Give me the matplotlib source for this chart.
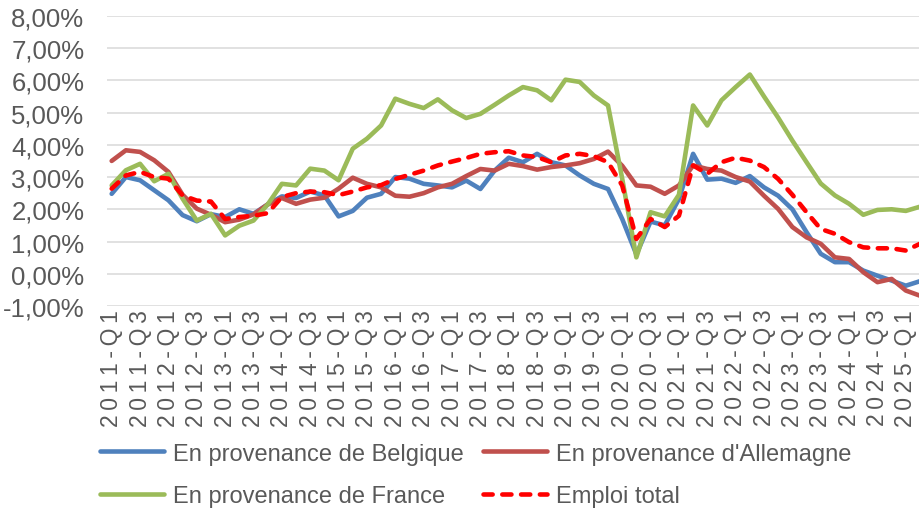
import matplotlib
matplotlib.use("Agg")
import matplotlib.pyplot as plt
from matplotlib.ticker import FuncFormatter

##### Donnees #####
quarters = [f"{y}-Q{q}" for y in range(2011, 2026) for q in range(1, 5)][:58]

belgique = [2.48, 3.0, 2.9, 2.59, 2.28, 1.82, 1.63, 1.85, 1.76, 2.0,
            1.86, 2.15, 2.4, 2.35, 2.55, 2.43, 1.78, 1.95, 2.36, 2.48,
            3.0, 2.95, 2.79, 2.74, 2.68, 2.89, 2.63, 3.2, 3.6, 3.46,
            3.72, 3.46, 3.36, 3.05, 2.79, 2.63, 1.7, 0.6, 1.62, 1.5,
            2.32, 3.72, 2.92, 2.95, 2.82, 3.03, 2.68, 2.42, 2.0, 1.29,
            0.62, 0.36, 0.36, 0.1, -0.06, -0.21, -0.37, -0.23]

allemagne = [3.5, 3.83, 3.78, 3.52, 3.16, 2.45, 2.02, 1.83, 1.6, 1.68,
             1.84, 2.15, 2.35, 2.17, 2.3, 2.36, 2.64, 2.98, 2.79, 2.68,
             2.42, 2.39, 2.5, 2.68, 2.79, 3.03, 3.25, 3.2, 3.41, 3.34,
             3.23, 3.31, 3.36, 3.43, 3.56, 3.79, 3.35, 2.74, 2.7, 2.48,
             2.74, 3.36, 3.25, 3.2, 3.0, 2.86, 2.42, 2.01, 1.45, 1.13,
             0.93, 0.51, 0.46, 0.05, -0.26, -0.16, -0.52, -0.68]

france = [2.74, 3.21, 3.41, 2.87, 3.1, 2.33, 1.65, 1.86, 1.19, 1.49,
          1.65, 2.15, 2.79, 2.74, 3.26, 3.2, 2.9, 3.88, 4.19, 4.6,
          5.43, 5.27, 5.14, 5.41, 5.07, 4.83, 4.96, 5.24, 5.53, 5.79,
          5.69, 5.38, 6.02, 5.95, 5.53, 5.22, 2.95, 0.51, 1.91, 1.78,
          2.45, 5.22, 4.6, 5.38, 5.79, 6.18, 5.5, 4.84, 4.13, 3.46,
          2.8, 2.43, 2.17, 1.83, 1.98, 2.0, 1.95, 2.08]

emploi_total = [2.64, 3.05, 3.16, 3.0, 2.95, 2.43, 2.27, 2.24, 1.7, 1.76,
                1.8, 1.88, 2.38, 2.5, 2.55, 2.53, 2.44, 2.55, 2.68, 2.75,
                2.94, 3.07, 3.2, 3.36, 3.48, 3.59, 3.72, 3.77, 3.8, 3.67,
                3.62, 3.46, 3.67, 3.72, 3.65, 3.46, 2.74, 1.08, 1.7, 1.45,
                1.8, 3.36, 3.1, 3.46, 3.6, 3.51, 3.31, 2.94, 2.45, 1.91,
                1.39, 1.24, 0.98, 0.82, 0.79, 0.79, 0.72, 0.93]

yticks = list(range(-1, 9))

##### Graphique #####
plt.rcParams['font.family'] = ['Liberation Sans', 'DejaVu Sans']
txt = '#595959'

fig = plt.figure(figsize=(9.2, 5.1), dpi=100)
ax = fig.add_axes([0.116, 0.398, 0.884, 0.569])

x = list(range(len(quarters)))
lw = 3.3
l_be, = ax.plot(x, belgique, color='#4F81BD', lw=lw, solid_capstyle='round', solid_joinstyle='round')
l_de, = ax.plot(x, allemagne, color='#C0504D', lw=lw, solid_capstyle='round', solid_joinstyle='round')
l_fr, = ax.plot(x, france, color='#9BBB59', lw=lw, solid_capstyle='round', solid_joinstyle='round')
l_tot, = ax.plot(x, emploi_total, color='#FF0000', lw=lw, dashes=(2.0, 2.1),
                 dash_capstyle='round', dash_joinstyle='round')

ax.set_xlim(-0.35, 57.0)
ax.set_ylim(-1, 8)
ax.set_yticks(yticks)
ax.yaxis.set_major_formatter(FuncFormatter(lambda v, p: f"{v:.2f}%".replace('.', ',')))
# Excel espace les caracteres des etiquettes tournees
ax.set_xticks(x[::2])
ax.set_xticklabels(["\u2009".join(q) for q in quarters[::2]], rotation=90)

ax.grid(axis='y', color='#D9D9D9', lw=1.1)
ax.set_axisbelow(True)
for s in ax.spines.values():
    s.set_visible(False)
ax.tick_params(length=0, colors=txt)
ax.tick_params(axis='y', labelsize=18.5, pad=16)
ax.tick_params(axis='x', labelsize=16.5, pad=2)

fig.legend([l_be, l_fr, l_de, l_tot],
           ["En provenance de Belgique", "En provenance de France",
            "En provenance d'Allemagne", "Emploi total"],
           ncol=2, loc='upper left', bbox_to_anchor=(0.109, 0.13),
           frameon=False, fontsize=17, labelcolor=txt,
           handlelength=2.7, handletextpad=0.4, columnspacing=0.8,
           labelspacing=0.85, borderpad=0, borderaxespad=0)

fig.savefig('out.png', dpi=100)
